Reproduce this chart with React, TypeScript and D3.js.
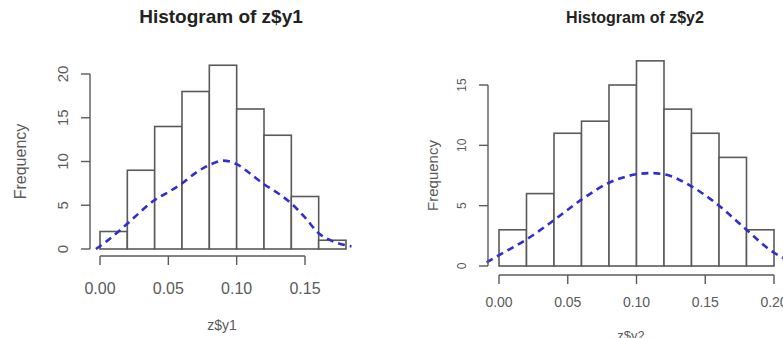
import React from 'react'
import * as d3 from 'd3'

// bin edges are start values, width 0.02
const BIN_WIDTH = 0.02
const y1Bins = [0, 0.02, 0.04, 0.06, 0.08, 0.1, 0.12, 0.14, 0.16]
const y1Counts = [2, 9, 14, 18, 21, 16, 13, 6, 1]
const y2Bins = [0, 0.02, 0.04, 0.06, 0.08, 0.1, 0.12, 0.14, 0.16, 0.18]
const y2Counts = [3, 6, 11, 12, 15, 17, 13, 11, 9, 3]

// dashed density curves (scaled to frequency)
const y1CurveX = [-0.003, 0.005, 0.015, 0.025, 0.04, 0.05, 0.06, 0.07, 0.08, 0.09, 0.1, 0.11, 0.12, 0.13, 0.14, 0.15, 0.16, 0.17, 0.184]
const y1CurveY = [0, 0.9, 2.2, 3.6, 5.6, 6.5, 7.5, 8.7, 9.6, 10.1, 9.7, 8.6, 7.4, 6.4, 5.2, 3.6, 1.8, 0.9, 0.3]
const y2CurveX = [-0.009, 0, 0.02, 0.04, 0.06, 0.08, 0.1, 0.11, 0.12, 0.14, 0.16, 0.18, 0.2, 0.21]
const y2CurveY = [0.3, 0.9, 2.2, 3.8, 5.5, 6.9, 7.6, 7.7, 7.6, 6.6, 5.0, 3.0, 1.1, 0.5]

const y1XTicks = [0, 0.05, 0.1, 0.15]
const y1YTicks = [0, 5, 10, 15, 20]
const y2XTicks = [0, 0.05, 0.1, 0.15, 0.2]
const y2YTicks = [0, 5, 10, 15]

const GRAY = '#5a5a5a'
const BLUE = '#2f2fd0'
const FONT = 'Liberation Sans, Arial, sans-serif'

interface HistProps {
  title: string
  xLabel: string
  bins: number[]
  counts: number[]
  curveX: number[]
  curveY: number[]
  xTicks: number[]
  yTicks: number[]
  xRange: [number, number] // pixel positions of first and last x tick
  yRange: [number, number] // pixel positions of 0 and top y tick
  xAxisY: number
  yAxisX: number
  titlePos: [number, number]
  titleSize: number
  xLabelPos: [number, number]
  yLabelX: number
  xTickSize: number
  xTickOffset: number
  yTickSize: number
  labelSize: number
}

function Histogram(p: HistProps) {
  const x = d3.scaleLinear()
    .domain([p.xTicks[0], p.xTicks[p.xTicks.length - 1]])
    .range(p.xRange)
  const y = d3.scaleLinear()
    .domain([0, p.yTicks[p.yTicks.length - 1]])
    .range(p.yRange)

  const line = d3.line<number>()
    .x((_, i) => x(p.curveX[i]))
    .y(d => y(d))
    .curve(d3.curveMonotoneX)

  const yMid = (p.yRange[0] + p.yRange[1]) / 2

  return (
    <g fontFamily={FONT}>
      <text x={p.titlePos[0]} y={p.titlePos[1]} textAnchor="middle" fontWeight="bold"
        fontSize={p.titleSize} fill="#222">
        {p.title}
      </text>

      {/* bars */}
      {p.bins.map((b, i) => (
        <rect key={i} x={x(b)} y={y(p.counts[i])} width={x(b + BIN_WIDTH) - x(b)}
          height={y(0) - y(p.counts[i])} fill="white" stroke={GRAY} strokeWidth={1.6} />
      ))}

      {/* density */}
      <path d={line(p.curveY) || ''} fill="none" stroke={BLUE} strokeWidth={2.6}
        strokeDasharray="7,5" />

      {/* x axis */}
      <line x1={p.xRange[0]} x2={p.xRange[1]} y1={p.xAxisY} y2={p.xAxisY} stroke={GRAY} strokeWidth={1.4} />
      {p.xTicks.map(t => (
        <g key={t}>
          <line x1={x(t)} x2={x(t)} y1={p.xAxisY} y2={p.xAxisY + 9} stroke={GRAY} strokeWidth={1.4} />
          <text x={x(t)} y={p.xAxisY + p.xTickOffset} textAnchor="middle" fontSize={p.xTickSize} fill={GRAY}>
            {t.toFixed(2)}
          </text>
        </g>
      ))}

      {/* y axis */}
      <line x1={p.yAxisX} x2={p.yAxisX} y1={p.yRange[0]} y2={p.yRange[1]} stroke={GRAY} strokeWidth={1.4} />
      {p.yTicks.map(t => (
        <g key={t}>
          <line x1={p.yAxisX} x2={p.yAxisX - 9} y1={y(t)} y2={y(t)} stroke={GRAY} strokeWidth={1.4} />
          <text transform={`translate(${p.yAxisX - 22},${y(t)}) rotate(-90)`} textAnchor="middle"
            fontSize={p.yTickSize} fill={GRAY}>{t}</text>
        </g>
      ))}

      <text x={p.xLabelPos[0]} y={p.xLabelPos[1]} textAnchor="middle" fontSize={p.labelSize - 2} fill={GRAY}>
        {p.xLabel}
      </text>
      <text transform={`translate(${p.yLabelX},${yMid}) rotate(-90)`} textAnchor="middle"
        fontSize={p.labelSize} fill={GRAY}>Frequency</text>
    </g>
  )
}

export default function App() {
  return (
    <svg width={783} height={338} style={{ position: 'absolute', left: 0, top: 0, background: 'white' }}>
      <rect width={783} height={338} fill="white" />
      <Histogram title="Histogram of z$y1" xLabel="z$y1" bins={y1Bins} counts={y1Counts}
        curveX={y1CurveX} curveY={y1CurveY} xTicks={y1XTicks} yTicks={y1YTicks}
        xRange={[100, 305]} yRange={[249, 74]} xAxisY={256} yAxisX={90}
        titlePos={[221, 23]} titleSize={19} xLabelPos={[222, 330]} yLabelX={26}
        xTickSize={16} xTickOffset={38} yTickSize={15} labelSize={16} />
      <Histogram title="Histogram of z$y2" xLabel="z$y2" bins={y2Bins} counts={y2Counts}
        curveX={y2CurveX} curveY={y2CurveY} xTicks={y2XTicks} yTicks={y2YTicks}
        xRange={[499, 774]} yRange={[266, 85]} xAxisY={275} yAxisX={488}
        titlePos={[635, 23]} titleSize={16} xLabelPos={[631, 340]} yLabelX={438}
        xTickSize={14} xTickOffset={32} yTickSize={12} labelSize={15} />
    </svg>
  )
}
